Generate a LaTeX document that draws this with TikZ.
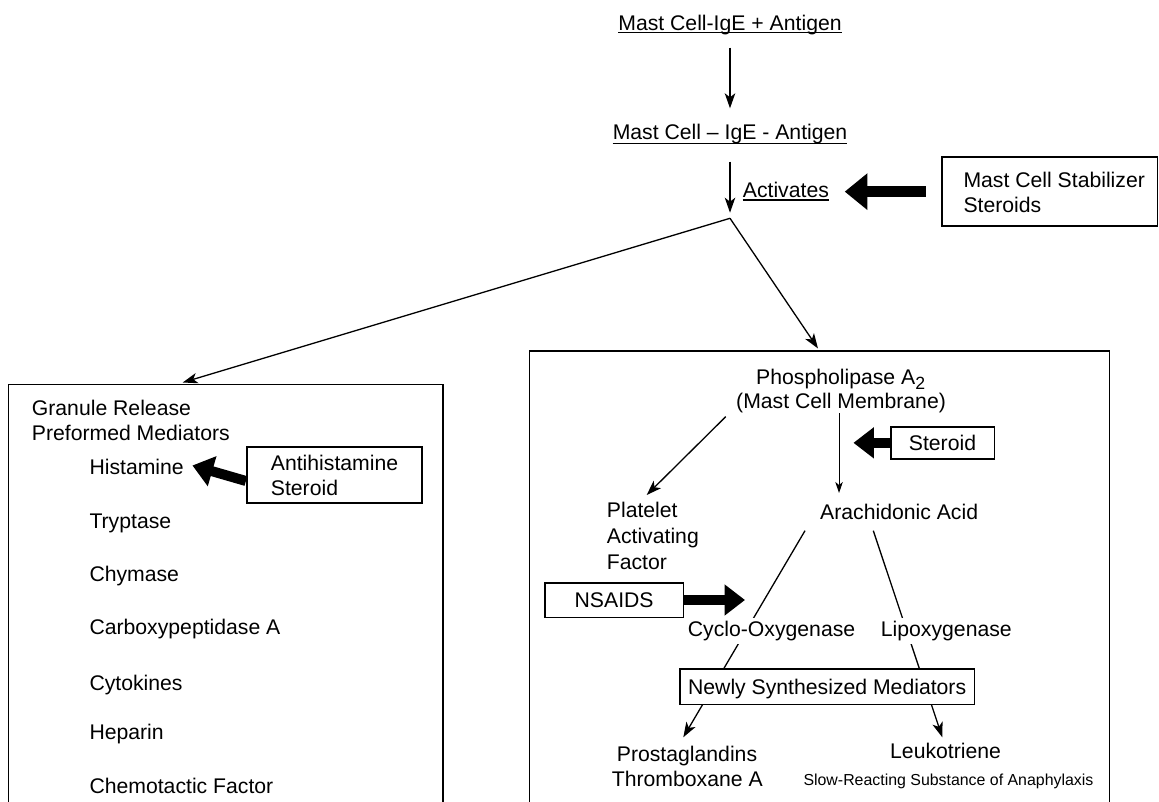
\documentclass[tikz,border=0pt]{standalone}
\usepackage{fontspec}
\setmainfont{Liberation Sans}
\usetikzlibrary{arrows.meta,calc}
\begin{document}
\begin{tikzpicture}[x=1pt,y=-1pt,
  txt/.style={font=\fontsize{21.2}{25}\selectfont, inner sep=0pt, anchor=base west},
  smalltxt/.style={font=\fontsize{15.9}{18}\selectfont, inner sep=0pt, anchor=base west},
  wtxt/.style={txt, fill=white, inner ysep=3pt},
  box/.style={draw, line width=1.6pt, inner sep=0pt, font=\fontsize{21.2}{25}\selectfont, fill=white},
  frame/.style={line width=1.6pt},
  arr/.style={line width=1.3pt, -{Stealth[length=15pt,width=10.5pt,inset=4pt]}},
  arrs/.style={line width=1pt, -{Stealth[length=11pt,width=7.5pt,inset=3pt]}},
  fatA/.style={line width=10.7pt, -{Triangle[length=22.7pt,width=35.3pt]}},
  fatB/.style={line width=10pt, -{Triangle[length=20.5pt,width=30pt]}},
  uline/.style={line width=1.2pt}]
\useasboundingbox (0,0) rectangle (1159,802);
% frames
\draw[frame] (8.3,802) -- (8.3,384.3) -- (443,384.3) -- (443,802);
\draw[frame] (529.3,802) -- (529.3,350.7) -- (1109.3,350.7) -- (1109.3,802);
% top chain
\node[txt,anchor=base] (t1) at (730,30.7) {Mast Cell-IgE + Antigen};
\node[txt,anchor=base] (t2) at (730,140) {Mast Cell – IgE - Antigen};
\node[txt] (act) at (742.7,197.3) {Activates};
\draw[uline] ([yshift=-2pt]t1.base west) -- ([yshift=-2pt]t1.base east);
\draw[uline] ([yshift=-3.5pt]t2.base west) -- ([yshift=-3.5pt]t2.base east);
\draw[uline] ([yshift=-2.7pt]act.base west) -- ([yshift=-2.7pt]act.base east);
\coordinate (J) at (730,218.3);
\coordinate (lbt) at (182.7,382.5);
\coordinate (rbt) at (818,348.5);
\draw[arr] ([yshift=-17pt]t1.base) -- ([yshift=31.7pt]t2.base);
\draw[arr] ([yshift=-21.7pt]t2.base) -- ([yshift=5.6pt]J);
\draw[arr] (J) -- (lbt);
\draw[arr] (J) -- (rbt);
\node[box, minimum width=215.8pt, minimum height=68.7pt] (stab) at (1049.6,191.65) {};
\node[txt] (stab1) at (963.3,187.7) {Mast Cell Stabilizer};
\node[txt] (stab2) at (963.3,212.7) {Steroids};
\draw[fatA] ([xshift=-15pt]stab.west) -- ([xshift=15.6pt]act.east |- stab.west);
% left box
\node[txt] (gr1) at (31.7,415) {Granule Release};
\node[txt] (gr2) at (31.7,440) {Preformed Mediators};
\node[txt] (hist) at (89.3,474) {Histamine};
\node[txt] (tryp) at (89.3,528.3) {Tryptase};
\node[txt] (chym) at (89.3,581.7) {Chymase};
\node[txt] (carb) at (89.3,634) {Carboxypeptidase A};
\node[txt] (cyto) at (89.3,690) {Cytokines};
\node[txt] (hep) at (89.3,739.3) {Heparin};
\node[txt] (chem) at (89.3,793.3) {Chemotactic Factor};
\node[box, minimum width=175pt, minimum height=56pt] (antih) at (334.2,474.7) {};
\node[txt] (ah1) at (270.7,470) {Antihistamine};
\node[txt] (ah2) at (270.7,495) {Steroid};
\draw[fatB] ([yshift=-6.3pt]antih.west) -- ([xshift=8.5pt,yshift=8.5pt]hist.base east);
% right box
\node[txt] (pla1) at (756,384) {Phospholipase A\raisebox{-5.5pt}{\fontsize{17.7}{18}\selectfont 2}};
\node[txt] (pla2) at (736,408.3) {(Mast Cell Membrane)};
\node[box, minimum width=103.6pt, minimum height=32.3pt] (ster) at (942.5,442.85) {Steroid};
\node[txt] (plt1) at (606.7,517.7) {Platelet};
\node[txt] (plt2) at (606.7,543.3) {Activating};
\node[txt] (plt3) at (606.7,569) {Factor};
\node[txt] (ara) at (820,519) {Arachidonic Acid};
\node[txt] (pro1) at (616.7,761) {Prostaglandins};
\node[txt] (pro2) at (611.7,786.7) {Thromboxane A};
\node[txt] (leu) at (890,758.3) {Leukotriene};
\node[smalltxt] (srs) at (803.3,785) {Slow-Reacting Substance of Anaphylaxis};
\draw[arr] ([xshift=-10.3pt,yshift=-8.4pt]pla2.base west) -- ([xshift=40pt,yshift=22.7pt]plt1.base west);
\draw[arrs] ([xshift=-2pt,yshift=-5pt]pla2.base) -- ([xshift=-2pt,yshift=26pt]pla2.base |- ara.base);
\draw[fatB] (ster.west) -- ([xshift=12.4pt]pla2.base |- ster.west);
\draw[arr] ([xshift=-15pt,yshift=-11.7pt]ara.base west) -- ([xshift=66.6pt,yshift=23.7pt]pro1.base west);
\draw[arr] ([xshift=53.3pt,yshift=-11.7pt]ara.base west) -- ([xshift=52.3pt,yshift=21pt]leu.base west);
\node[wtxt] (cyc) at (687.7,636.7) {Cyclo-Oxygenase};
\node[wtxt] (lip) at (880.7,636.7) {Lipoxygenase};
\node[box, minimum width=294.3pt, minimum height=35.3pt, text depth=0pt] (nsm) at (827.15,686.65) {Newly Synthesized Mediators};
\node[box, minimum width=138.3pt, minimum height=34.6pt] (nsa) at (614.15,600) {NSAIDS};
\draw[fatB] (nsa.east) -- ([xshift=57.3pt]cyc.base west |- nsa.east);
\end{tikzpicture}
\end{document}
